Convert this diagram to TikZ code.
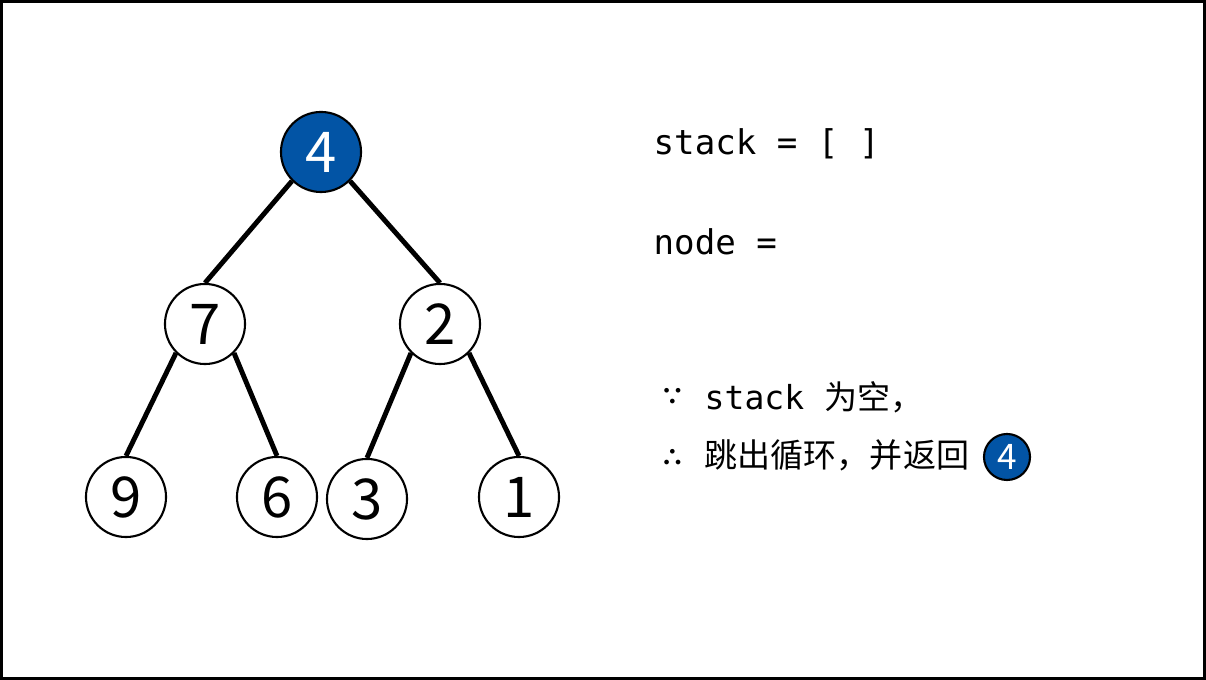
\documentclass[tikz,border=0pt]{standalone}
\usepackage{fontspec}
\setmainfont{Noto Sans CJK SC}
\setmonofont{DejaVu Sans Mono}
\definecolor{nodeblue}{RGB}{2,84,165}
\tikzset{
  treenode/.style={circle, draw, line width=0.6pt, minimum size=0.8cm, inner sep=0pt,
    font=\fontsize{16}{16}\selectfont},
  curnode/.style={treenode, fill=nodeblue, text=white},
  edge/.style={line width=1.4pt},
  codetext/.style={anchor=base west, inner sep=0pt, font=\ttfamily\fontsize{9.7}{12}\selectfont},
  notetext/.style={anchor=base west, inner sep=0pt, font=\fontsize{9.4}{12}\selectfont},
  marktext/.style={anchor=base west, inner sep=0pt, font=\bfseries\fontsize{7}{8}\selectfont},
}
\begin{document}
\begin{tikzpicture}[x=0.01cm, y=-0.01cm]
  \useasboundingbox (0,0) rectangle (1206,680);
  \draw[line width=0.85pt] (1.5,1.5) rectangle (1204.5,678.5);
  % Baum
  \node[curnode] (n4) at (321,152) {4};
  \node[treenode] (n7) at (205,324) {7};
  \node[treenode] (n2) at (440,324) {2};
  \node[treenode] (n9) at (126,497) {9};
  \node[treenode] (n6) at (277,497) {6};
  \node[treenode] (n3) at (367,499) {3};
  \node[treenode] (n1) at (519,497) {1};
  \draw[edge] (n4.south west) -- (n7.north);
  \draw[edge] (n4.south east) -- (n2.north);
  \draw[edge] (n7.south west) -- (n9.north);
  \draw[edge] (n7.south east) -- (n6.north);
  \draw[edge] (n2.south west) -- (n3.north);
  \draw[edge] (n2.south east) -- (n1.north);
  % Text rechts
  \node[marktext] (since) at (660,406) {∵};
  \node[marktext] (thus) at (660,467) {∴};
  \node[codetext] (stk) at (653,155) {stack = [ ]};
  \node[codetext] (cur) at (653,255) {node =};
  \node[notetext] (why) at (704,410) {{\ttfamily stack\ }为空，};
  \node[notetext] (res) at (704,468) {跳出循环，并返回};
  \node[curnode, minimum size=0.46cm, font=\fontsize{10}{10}\selectfont] (ret) at (1007,457) {4};
\end{tikzpicture}
\end{document}
